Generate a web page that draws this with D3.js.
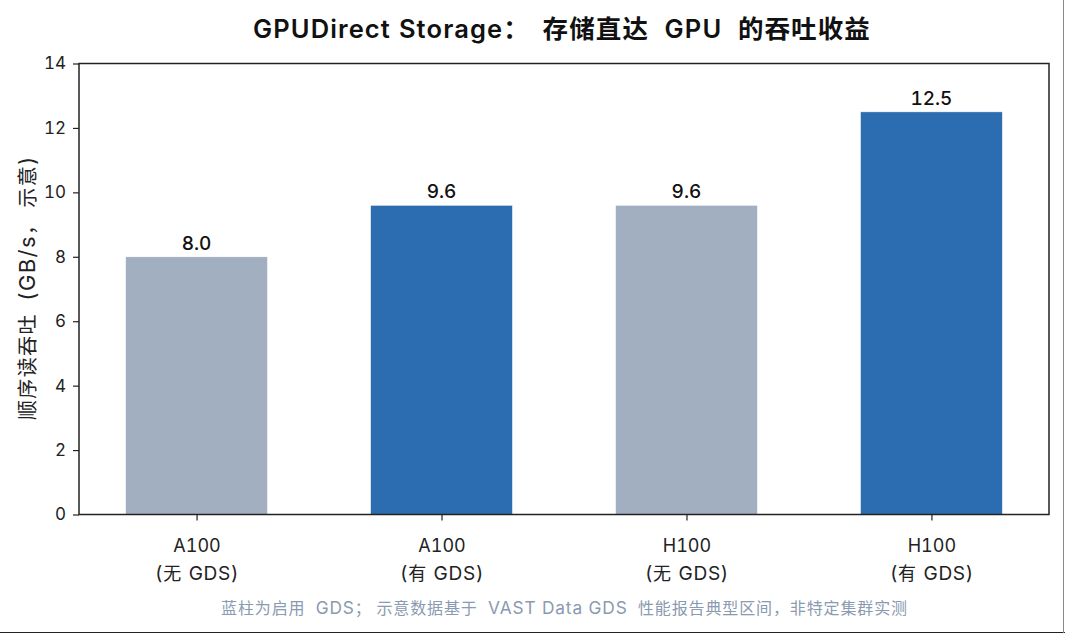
<!DOCTYPE html>
<html><head><meta charset="utf-8">
<script src="https://cdn.jsdelivr.net/npm/d3@7"></script>
<style>
html,body{margin:0;padding:0;background:#fff;}
svg{display:block;font-family:Inter,"Noto Sans CJK SC",sans-serif;font-variant-numeric:tabular-nums;}
</style></head>
<body>
<svg id="c" width="1065" height="633"></svg>
<script>
const categories = ["A100\n(无 GDS)", "A100\n(有 GDS)", "H100\n(无 GDS)", "H100\n(有 GDS)"];
const values = [8.0, 9.6, 9.6, 12.5];
const gds = [false, true, false, true];
const yTicks = [0, 2, 4, 6, 8, 10, 12, 14];
const title = "GPUDirect Storage：存储直达 GPU 的吞吐收益";
const yLabel = "顺序读吞吐 (GB/s，示意)";
const note = "蓝柱为启用 GDS；示意数据基于 VAST Data GDS 性能报告典型区间，非特定集群实测";

const W = 1065, H = 633;
const m = {left: 79, right: 1049, top: 63.5, bottom: 514.5};
const svg = d3.select("#c");
const font = 'Inter,"Noto Sans CJK SC",sans-serif';
const CJK = /[\u2E80-\u9FFF\u3000-\u303F\uFF00-\uFFEF]/;
const RUNS = /[\u2E80-\u9FFF\u3000-\u303F\uFF00-\uFFEF]+|[^\u2E80-\u9FFF\u3000-\u303F\uFF00-\uFFEF]+/g;

function segments(str) {
  const out = [];
  (str.match(RUNS) || []).forEach(r => {
    const c = CJK.test(r[0]);
    if (c && /^[：；，]/.test(r) && out.length && !out[out.length-1].c) {
      out.push({t: r[0], c: true, p: true});
      if (r.length > 1) out.push({t: r.slice(1), c: true});
    } else out.push({t: r, c});
  });
  return out;
}

// mixed CJK / Latin text with CJK-Latin autospacing, fitted to a target ink width
function richText(parent, str, o) {
  const t = parent.append("text").attr("font-size", o.size).attr("font-family", font)
    .attr("fill", o.fill).attr("text-anchor", o.anchor || "start");
  if (o.weight) t.attr("font-weight", o.weight);
  const segs = segments(str);
  segs.forEach((s, i) => {
    const ts = t.append("tspan").text(s.t);
    if (!s.c) ts.attr("font-size", o.size * (o.latin || 1));
    if (i === 0) return;
    const p = segs[i-1];
    let dx = 0;
    if (p.p) dx = o.pgap || 0;
    else if (p.c && !s.c) dx = /^[\sA-Za-z0-9]/.test(s.t) ? (o.gap || 0) : 0;
    else if (!p.c && s.c && !s.p) dx = /[\sA-Za-z0-9]$/.test(p.t) ? (o.gap || 0) : 0;
    if (dx) ts.attr("dx", dx * o.size);
  });
  if (o.target) {
    const n = Array.from(str).length - 1;
    let ls = 0;
    for (let k = 0; k < 3; k++) {
      const w = t.node().getBBox().width;
      ls += (o.target - w) / n;
      t.attr("letter-spacing", ls);
    }
  }
  return t;
}

const x = d3.scaleLinear().domain([-0.48, 3.48]).range([m.left, m.right]);
const y = d3.scaleLinear().domain([0, 14]).range([m.bottom, m.top]);
const bw = 0.58;

// bars
svg.append("g").selectAll("rect").data(values).join("rect")
  .attr("x", (d,i) => x(i - bw/2))
  .attr("width", (d,i) => x(i + bw/2) - x(i - bw/2))
  .attr("y", d => y(d))
  .attr("height", d => y(0) - y(d))
  .attr("fill", (d,i) => gds[i] ? "#2c6cb0" : "#a2afc0")
  .attr("stroke", "#fff").attr("stroke-width", 0.6);

// value labels
svg.append("g").selectAll("text").data(values).join("text")
  .attr("x", (d,i) => x(i))
  .attr("y", d => y(d) - 7)
  .attr("text-anchor", "middle")
  .attr("font-size", 19).attr("font-weight", "500").attr("fill", "#111")
  .text(d => d.toFixed(1));

// y axis
const yAxis = svg.append("g").attr("transform", `translate(${m.left},0)`)
  .call(d3.axisLeft(y).tickValues(yTicks).tickSize(6).tickPadding(7).tickFormat(d3.format("d")));
yAxis.select(".domain").remove();
yAxis.selectAll("line").attr("stroke", "#222").attr("stroke-width", 1.2);
yAxis.selectAll("text").attr("font-size", 17).attr("fill", "#222").attr("font-family", font);

// x axis
const xAxis = svg.append("g").attr("transform", `translate(0,${m.bottom})`)
  .call(d3.axisBottom(x).tickValues(d3.range(categories.length)).tickSize(6).tickFormat(""));
xAxis.select(".domain").remove();
xAxis.selectAll("line").attr("stroke", "#222").attr("stroke-width", 1.2);
xAxis.selectAll(".tick").each(function(d){
  const lines = categories[d].split("\n");
  const g = d3.select(this);
  richText(g, lines[0], {size: 18, fill: "#222", anchor: "middle"}).attr("y", 37.5);
  richText(g, lines[1], {size: 18, fill: "#222", anchor: "middle", gap: 0.05, latin: 1.06, target: 84}).attr("y", 65.5);
});

// frame
svg.append("rect").attr("x", m.left).attr("y", m.top)
  .attr("width", m.right - m.left).attr("height", m.bottom - m.top)
  .attr("fill", "none").attr("stroke", "#222").attr("stroke-width", 1.5);

// title
richText(svg, title, {size: 25.5, weight: "600", fill: "#111", gap: 0.3, pgap: 0.5, latin: 1.0, target: 618})
  .attr("x", 253).attr("y", 38);

// y label
richText(svg, yLabel, {size: 20, fill: "#222", gap: 0.25, pgap: 0.3, latin: 1.1, target: 265})
  .attr("transform", "translate(35,420) rotate(-90)");

// footnote
richText(svg, note, {size: 16, fill: "#8a9ab0", gap: 0.3, pgap: 0.3, latin: 1.08, target: 687})
  .attr("x", 221).attr("y", 614);

// page edges
svg.append("line").attr("x1", 0).attr("x2", W).attr("y1", H - 0.5).attr("y2", H - 0.5).attr("stroke", "#222");
svg.append("line").attr("x1", W - 1.5).attr("x2", W - 1.5).attr("y1", 0).attr("y2", H).attr("stroke", "#888");
</script>
</body></html>
